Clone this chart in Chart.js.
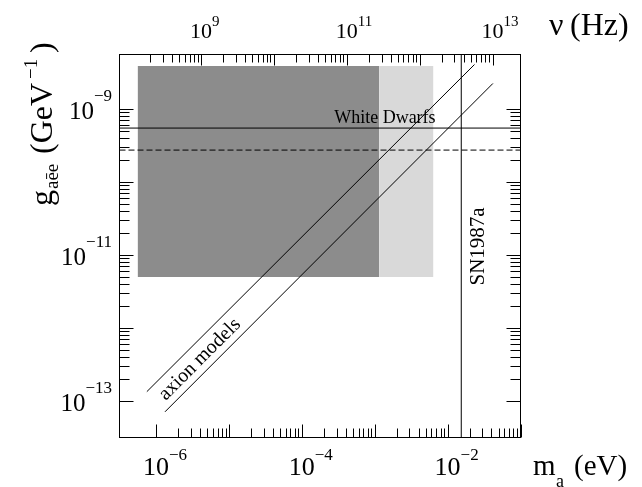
<!DOCTYPE html>
<html>
<head>
<meta charset="utf-8">
<script src="https://cdn.jsdelivr.net/npm/chart.js@4.4.1/dist/chart.umd.min.js"></script>
<style>
  html, body { margin: 0; padding: 0; background: #fff; }
  #wrap { width: 642px; height: 487px; }
</style>
</head>
<body>
<div id="wrap"><canvas id="chart" width="642" height="487"></canvas></div>
<script>
// frame ranges
const massRange = [Math.pow(10, -6.5), 0.1];        // m_a in eV
const couplingRange = [Math.pow(10, -13.5), 5.48e-9]; // g in GeV^-1
const eVtoHz = 2.418e14;

// excluded regions (mass edges) and their coupling span
const darkRegion = [5.6e-7, 1.15e-3];
const lightRegion = [1.15e-3, 6.4e-3];
const regionTop = 3.8e-9;
const regionBottom = 4.95e-12;

// astrophysical limits
const whiteDwarfLimit = 5.4e-10;
const whiteDwarfHint = 2.7e-10;
const sn1987aMass = 1.54e-2;

// axion model band edges, [mass, coupling]
const axionUpper = [[7.5e-7, 1.34e-13], [2.34e-2, 4.0e-9]];
const axionLower = [[1.33e-6, 7.1e-14], [4.18e-2, 2.2e-9]];

// labelled decades
const massLabels = [-6, -4, -2];
const freqLabels = [9, 11, 13];
const couplingLabels = [-13, -11, -9];

// tick spans
const massTickSpan = [1e-6, 1e-1];
const freqTickSpan = [2e8, 1e13];
const couplingTickSpan = [1e-13, 1e-9];

const SERIF = '"Liberation Serif", "DejaVu Serif", serif';

function pts(pairs) { return pairs.map(([x, y]) => ({ x, y })); }

function logTicks(lo, hi) {
  const out = [];
  for (let k = -16; k <= 15; k++) {
    for (let j = 1; j <= 9; j++) {
      const v = j * Math.pow(10, k);
      if (v >= lo * 0.999 && v <= hi * 1.001) out.push({ v, major: j === 1 });
    }
  }
  return out;
}

function power(ctx, exp, x, y, size, expSize, rise, align) {
  ctx.font = size + 'px ' + SERIF;
  const bw = ctx.measureText('10').width;
  ctx.font = expSize + 'px ' + SERIF;
  const ew = ctx.measureText(exp).width;
  const x0 = align === 'right' ? x - bw - ew : x - bw / 2;
  ctx.textAlign = 'left';
  ctx.textBaseline = 'alphabetic';
  ctx.font = size + 'px ' + SERIF;
  ctx.fillText('10', x0, y);
  ctx.font = expSize + 'px ' + SERIF;
  ctx.fillText(exp, x0 + bw, y - rise);
}

const framePlugin = {
  id: 'frame',
  afterDraw(chart) {
    const { ctx, chartArea: a, scales } = chart;
    const sx = scales.x, sy = scales.y, st = scales.xTop;
    ctx.save();
    ctx.strokeStyle = '#000';
    ctx.fillStyle = '#000';
    ctx.lineWidth = 1;
    ctx.strokeRect(a.left, a.top, a.right - a.left, a.bottom - a.top);

    ctx.beginPath();
    logTicks(massTickSpan[0], massTickSpan[1]).forEach(t => {
      const px = Math.round(sx.getPixelForValue(t.v)) + 0.5;
      ctx.moveTo(px, a.bottom);
      ctx.lineTo(px, a.bottom - (t.major ? 13 : 9));
    });
    logTicks(freqTickSpan[0], freqTickSpan[1]).forEach(t => {
      const px = Math.round(st.getPixelForValue(t.v)) + 0.5;
      ctx.moveTo(px, a.top);
      ctx.lineTo(px, a.top + (t.major ? 11 : 8));
    });
    logTicks(couplingTickSpan[0], couplingTickSpan[1]).forEach(t => {
      const py = Math.round(sy.getPixelForValue(t.v)) + 0.5;
      ctx.moveTo(a.left, py);
      ctx.lineTo(a.left + (t.major ? 14 : 10), py);
      ctx.moveTo(a.right, py);
      ctx.lineTo(a.right - (t.major ? 14 : 10), py);
    });
    ctx.stroke();

    // tick labels
    massLabels.forEach(k => {
      power(ctx, '\u2212' + (-k), sx.getPixelForValue(Math.pow(10, k)), 475, 26, 17, 15, 'center');
    });
    freqLabels.forEach(k => {
      power(ctx, String(k), st.getPixelForValue(Math.pow(10, k)), 37.5, 22, 15, 12, 'center');
    });
    couplingLabels.forEach(k => {
      const py = sy.getPixelForValue(Math.pow(10, k));
      power(ctx, '\u2212' + (-k), 112, py + 10, 25, 17, 18, 'right');
    });

    // axis titles
    ctx.textAlign = 'left';
    ctx.textBaseline = 'alphabetic';
    ctx.font = '29px ' + SERIF;
    ctx.fillText('m', 533, 475);
    ctx.fillText('(eV)', 574, 475);
    ctx.font = '18px ' + SERIF;
    ctx.fillText('a', 556, 487);

    ctx.font = '32px ' + SERIF;
    ctx.fillText('\u03bd', 549, 35);
    ctx.fillText('(Hz)', 570, 35);

    ctx.save();
    ctx.translate(52, 206);
    ctx.rotate(-Math.PI / 2);
    ctx.font = '32px ' + SERIF;
    ctx.fillText('g', 0, 0);
    ctx.font = '19px ' + SERIF;
    ctx.fillText('a\u0113e', 17, 6);
    ctx.font = '32px ' + SERIF;
    ctx.fillText('(GeV', 52, 0);
    ctx.font = '19px ' + SERIF;
    ctx.fillText('\u22121', 127, -15);
    ctx.font = '32px ' + SERIF;
    ctx.fillText(')', 153, 0);
    ctx.restore();

    // annotations
    ctx.font = '18px ' + SERIF;
    ctx.textAlign = 'center';
    ctx.fillText('White Dwarfs', sx.getPixelForValue(1.38e-3), sy.getPixelForValue(whiteDwarfLimit) - 5);

    ctx.save();
    ctx.translate(sx.getPixelForValue(sn1987aMass) + 23, sy.getPixelForValue(1.3e-11));
    ctx.rotate(-Math.PI / 2);
    ctx.font = '21px ' + SERIF;
    ctx.textAlign = 'center';
    ctx.fillText('SN1987a', 0, 0);
    ctx.restore();

    ctx.save();
    ctx.translate(sx.getPixelForValue(4.0e-6), sy.getPixelForValue(3.7e-13));
    ctx.rotate(-Math.PI / 4);
    ctx.font = '20px ' + SERIF;
    ctx.textAlign = 'center';
    ctx.textBaseline = 'middle';
    ctx.fillText('axion models', 0, 0);
    ctx.restore();

    ctx.restore();
  }
};

const lineStyle = { showLine: true, pointRadius: 0, borderColor: '#000', borderWidth: 1, fill: false, order: 1 };
const fillStyle = { showLine: true, pointRadius: 0, borderColor: 'transparent', borderWidth: 0, order: 10 };

new Chart(document.getElementById('chart'), {
  type: 'scatter',
  data: {
    datasets: [
      { ...fillStyle, label: 'excluded', data: pts([[darkRegion[0], regionTop], [darkRegion[1], regionTop]]),
        fill: { value: regionBottom }, backgroundColor: '#8c8c8c' },
      { ...fillStyle, label: 'sensitivity', data: pts([[lightRegion[0], regionTop], [lightRegion[1], regionTop]]),
        fill: { value: regionBottom }, backgroundColor: '#d9d9d9' },
      { ...lineStyle, label: 'White Dwarfs', data: pts([[massRange[0], whiteDwarfLimit], [massRange[1], whiteDwarfLimit]]) },
      { ...lineStyle, label: 'White Dwarfs hint', borderDash: [6, 3],
        data: pts([[massRange[0], whiteDwarfHint], [massRange[1], whiteDwarfHint]]) },
      { ...lineStyle, label: 'SN1987a', data: pts([[sn1987aMass, couplingRange[0]], [sn1987aMass, couplingRange[1]]]) },
      { ...lineStyle, label: 'axion upper', data: pts(axionUpper) },
      { ...lineStyle, label: 'axion lower', data: pts(axionLower) },
    ],
  },
  options: {
    responsive: false,
    animation: false,
    events: [],
    layout: { padding: { left: 119.5, right: 121.5, top: 54.5, bottom: 49.5 } },
    plugins: { legend: { display: false }, tooltip: { enabled: false } },
    scales: {
      x: { type: 'logarithmic', min: massRange[0], max: massRange[1], display: false },
      y: { type: 'logarithmic', min: couplingRange[0], max: couplingRange[1], display: false },
      xTop: { type: 'logarithmic', position: 'top', axis: 'x',
        min: massRange[0] * eVtoHz, max: massRange[1] * eVtoHz, display: false },
    },
  },
  plugins: [framePlugin],
});
</script>
</body>
</html>
